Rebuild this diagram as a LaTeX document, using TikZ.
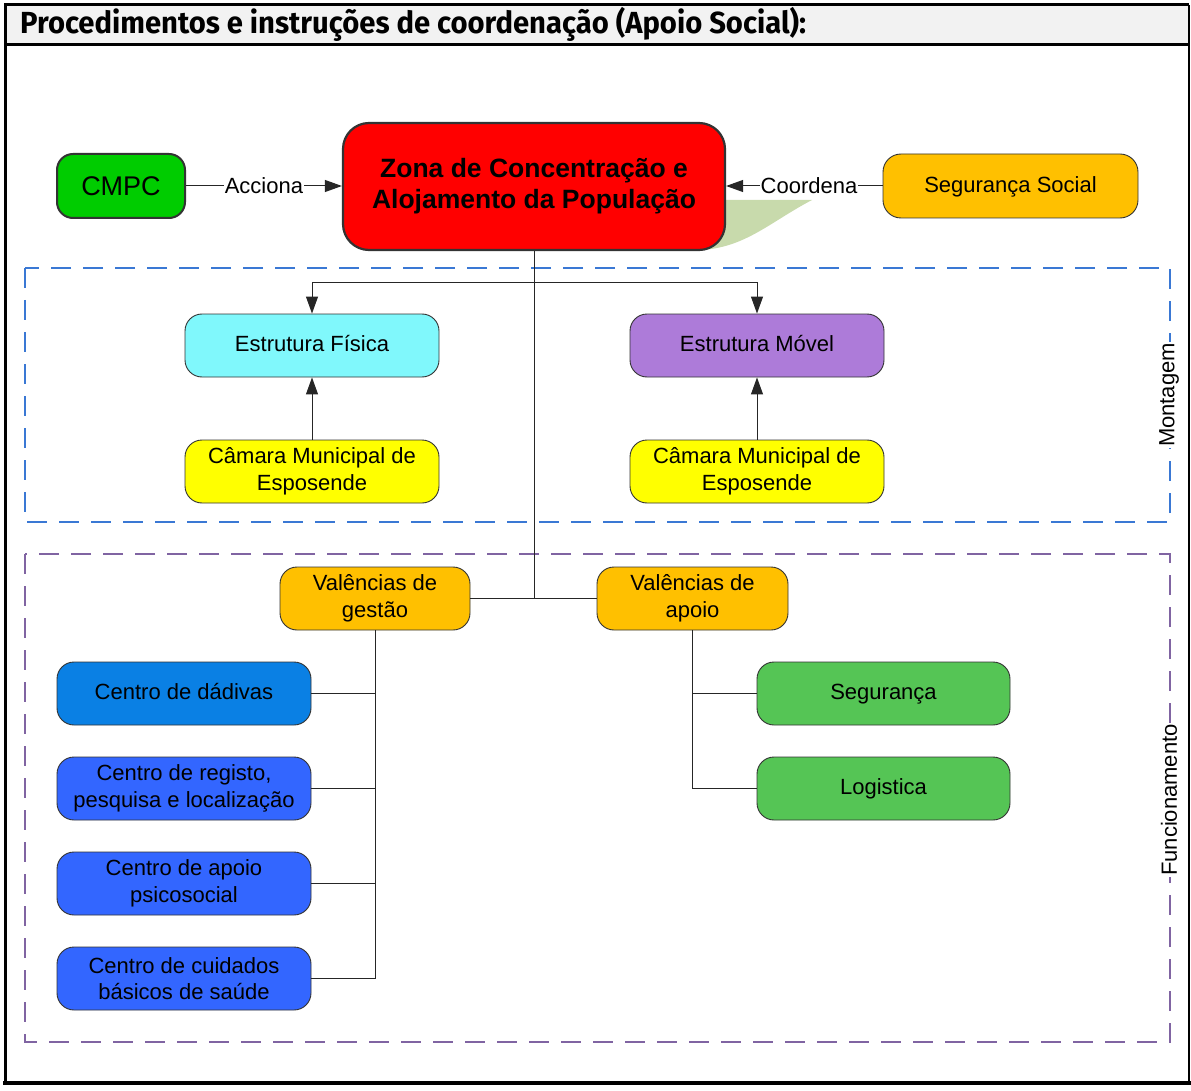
\documentclass[tikz,border=0pt]{standalone}
\usepackage{fontspec}
\setmainfont{Liberation Sans}
\newfontfamily\titlefont{Fira Sans}
\usetikzlibrary{arrows.meta}

\definecolor{bandgray}{RGB}{242,242,242}
\definecolor{zonared}{RGB}{255,0,0}
\definecolor{cmpcgreen}{RGB}{0,204,0}
\definecolor{amber}{RGB}{255,192,0}
\definecolor{lightcyan}{RGB}{128,248,252}
\definecolor{lilac}{RGB}{173,123,217}
\definecolor{brightyellow}{RGB}{255,255,0}
\definecolor{skyblue}{RGB}{10,128,228}
\definecolor{royalblue}{RGB}{51,102,255}
\definecolor{leafgreen}{RGB}{85,197,85}
\definecolor{dashblue}{RGB}{58,120,212}
\definecolor{dashpurple}{RGB}{128,100,162}
\definecolor{olivewash}{RGB}{200,218,172}

\newsavebox\titlebox
\newlength\titlewd

\begin{document}
\sbox\titlebox{\titlefont\bfseries\fontsize{30.5}{32}\selectfont Procedimentos e instruções de coordenação (Apoio Social):}%
\setlength\titlewd{\wd\titlebox}%
\pgfmathsetmacro\titlestretch{786/\titlewd}%
\begin{tikzpicture}[x=1pt,y=-1pt,
  box/.style={draw=black!80, line width=0.9pt, rounded corners=17pt,
    inner sep=0pt, align=center, font=\fontsize{22}{26.5}\selectfont,
    minimum width=254pt, minimum height=63pt},
  oneline/.style={text height=15.8pt, text depth=3pt},
  wire/.style={line width=1pt, draw=black!85},
  arr/.style={wire, -{Triangle[length=17pt,width=12pt]}},
  lbl/.style={fill=white, inner sep=1pt, font=\fontsize{22}{26}\selectfont},
  framelbl/.style={fill=white, inner sep=1pt, rotate=90, font=\fontsize{22}{26}\selectfont},
  zone/.style={line width=2.5pt, dash pattern=on 20pt off 12pt}
]
\useasboundingbox (0,0) rectangle (1191,1091);

% page frame and title band
\fill[bandgray] (5,5) rectangle (1189,45);
\draw[line width=3pt] (5,1083) -- (5,5) -- (1189,5);
\draw[line width=3pt] (5,45) -- (1189,45);
\draw[line width=2pt] (1189,5) -- (1189,1083);
\draw[line width=4pt] (3,1083) -- (1191,1083);

\node[anchor=base west, inner sep=0pt] (title) at (20,34)
  {\scalebox{\titlestretch}[1]{\usebox\titlebox}};

% grouping frames
\draw[zone, dashblue] (25,268) rectangle (1170,522);
\draw[zone, dashpurple] (25,554) rectangle (1170,1042);
\node[framelbl] (montagem) at (1169,395) {Montagem};
\node[framelbl] (funcionamento) at (1169,800) {Funcionamento};

% shaded wedge behind the central box
\fill[olivewash] (715,200) -- (812,200) .. controls (770,222) and (745,248) .. (700,250) -- (700,200) -- cycle;

% central box and its partners
\node[box, fill=zonared, line width=2.2pt, rounded corners=26pt,
  minimum width=382pt, minimum height=127pt,
  font=\bfseries\fontsize{26.5}{31}\selectfont] (zona) at (534,186.5)
  {Zona de Concentração e\\[0pt]\rule{0pt}{0pt}Alojamento da População};
\node[box, oneline, fill=cmpcgreen, line width=2pt, rounded corners=16pt,
  minimum width=128pt, minimum height=64pt, text height=19.5pt, text depth=0pt,
  font=\fontsize{27}{30}\selectfont] (cmpc) at (121,186) {CMPC};
\node[box, oneline, fill=amber, rounded corners=18pt, minimum width=255pt, minimum height=64pt]
  (segsoc) at (1010.5,186) {Segurança Social};

\draw[arr] (cmpc.east) -- node[lbl] {Acciona} (zona.west |- cmpc.east);
\draw[arr] (segsoc.west) -- node[lbl, pos=0.47] {Coordena} (zona.east |- segsoc.west);

% assembly
\node[box, oneline, fill=lightcyan] (fisica) at (312,345.5) {Estrutura Física};
\node[box, oneline, fill=lilac] (movel) at (757,345.5) {Estrutura Móvel};
\node[box, fill=brightyellow] (cmeL) at (312,471.5) {Câmara Municipal de\\Esposende};
\node[box, fill=brightyellow] (cmeR) at (757,471.5) {Câmara Municipal de\\Esposende};

\coordinate (split) at (534,283);
\coordinate (hub) at (534,598);
\draw[wire] (zona.south) -- (hub);
\draw[arr] (split) -| (fisica.north);
\draw[arr] (split) -| (movel.north);
\draw[arr] (cmeL.north) -- (fisica.south);
\draw[arr] (cmeR.north) -- (movel.south);

% operation
\node[box, fill=amber, minimum width=190pt] (vgest) at (375,598.5) {Valências de\\gestão};
\node[box, fill=amber, minimum width=191pt] (vapoio) at (692.5,598.5) {Valências de\\apoio};
\draw[wire] (vgest.east) -- (vapoio.west);

\node[box, oneline, fill=skyblue] (dadivas) at (184,693.5) {Centro de dádivas};
\node[box, fill=royalblue] (registo) at (184,788.5) {Centro de registo,\\pesquisa e localização};
\node[box, fill=royalblue] (psico) at (184,883.5) {Centro de apoio\\psicosocial};
\node[box, fill=royalblue] (saude) at (184,978.5) {Centro de cuidados\\básicos de saúde};

\node[box, oneline, fill=leafgreen, minimum width=253pt] (seguranca) at (883.5,693.5) {Segurança};
\node[box, oneline, fill=leafgreen, minimum width=253pt] (logistica) at (883.5,788.5) {Logistica};

\draw[wire] (vgest.south) |- (dadivas.east);
\draw[wire] (vgest.south) |- (registo.east);
\draw[wire] (vgest.south) |- (psico.east);
\draw[wire] (vgest.south) |- (saude.east);
\draw[wire] (vapoio.south) |- (seguranca.west);
\draw[wire] (vapoio.south) |- (logistica.west);
\end{tikzpicture}
\end{document}
